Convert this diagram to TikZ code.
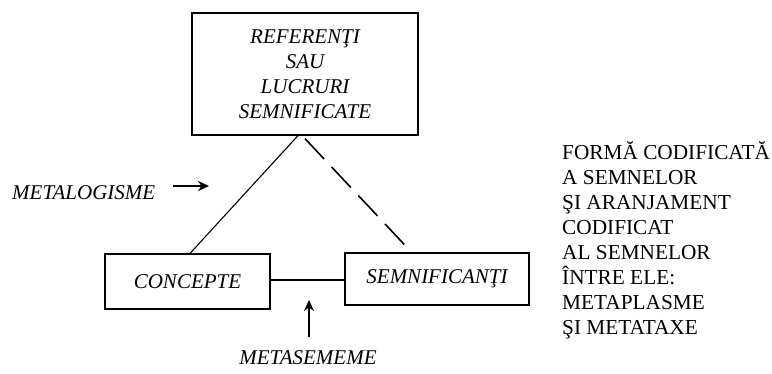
\documentclass[tikz,border=0pt]{standalone}
\usepackage{fontspec}
\setmainfont{Liberation Serif}
\usetikzlibrary{arrows.meta,calc}
\begin{document}
\begin{tikzpicture}[x=1pt,y=-1pt,
  box/.style={draw,line width=1.2pt,inner sep=0pt,font=\fontsize{21}{25}\selectfont\itshape,align=center},
  lbl/.style={inner sep=0pt,font=\fontsize{21}{25}\selectfont\itshape},
  rtext/.style={inner sep=0pt,anchor=north west,align=left,font=\fontsize{21.3}{25}\selectfont},
  link/.style={line width=1.1pt},
  dlink/.style={line width=1.6pt,dash pattern=on 28pt off 11pt},
  arr/.style={line width=1.8pt,-{Stealth[length=11pt,width=10pt]}}]
\useasboundingbox (0,0) rectangle (772,373);
\node[box,minimum width=226pt,minimum height=122pt] (top) at (305,74)
  {REFERENŢI\\SAU\\LUCRURI\\SEMNIFICATE};
\node[box,minimum width=165pt,minimum height=55pt] (conc) at (187.5,281.5) {CONCEPTE};
\node[box,minimum width=184pt,minimum height=52pt] (sem) at (437,279) {SEMNIFICANŢI};
\draw[link] ([xshift=-7pt]top.south) -- ([xshift=2.5pt]conc.north);
\draw[dlink] ([yshift=-3pt]top.south) -- ([xshift=-30pt,yshift=5pt]sem.north);
\draw[link] (conc.east |- 0,280) -- (sem.west |- 0,280);
\node[lbl,anchor=west] (mlog) at (12,193) {METALOGISME};
\coordinate (mlogtail) at (173,186);
\coordinate (mlogtip) at (209,186);
\draw[arr] (mlogtail) -- (mlogtip);
\node[lbl] (msem) at (308,358) {METASEMEME};
\coordinate (msemtail) at (309,337);
\coordinate (msemtip) at (309,300);
\draw[arr] (msemtail) -- (msemtip);
\node[rtext] (right) at (562,141) {FORMĂ CODIFICATĂ\\A SEMNELOR\\ŞI ARANJAMENT\\CODIFICAT\\AL SEMNELOR\\ÎNTRE ELE:\\METAPLASME\\ŞI METATAXE};
\end{tikzpicture}
\end{document}
